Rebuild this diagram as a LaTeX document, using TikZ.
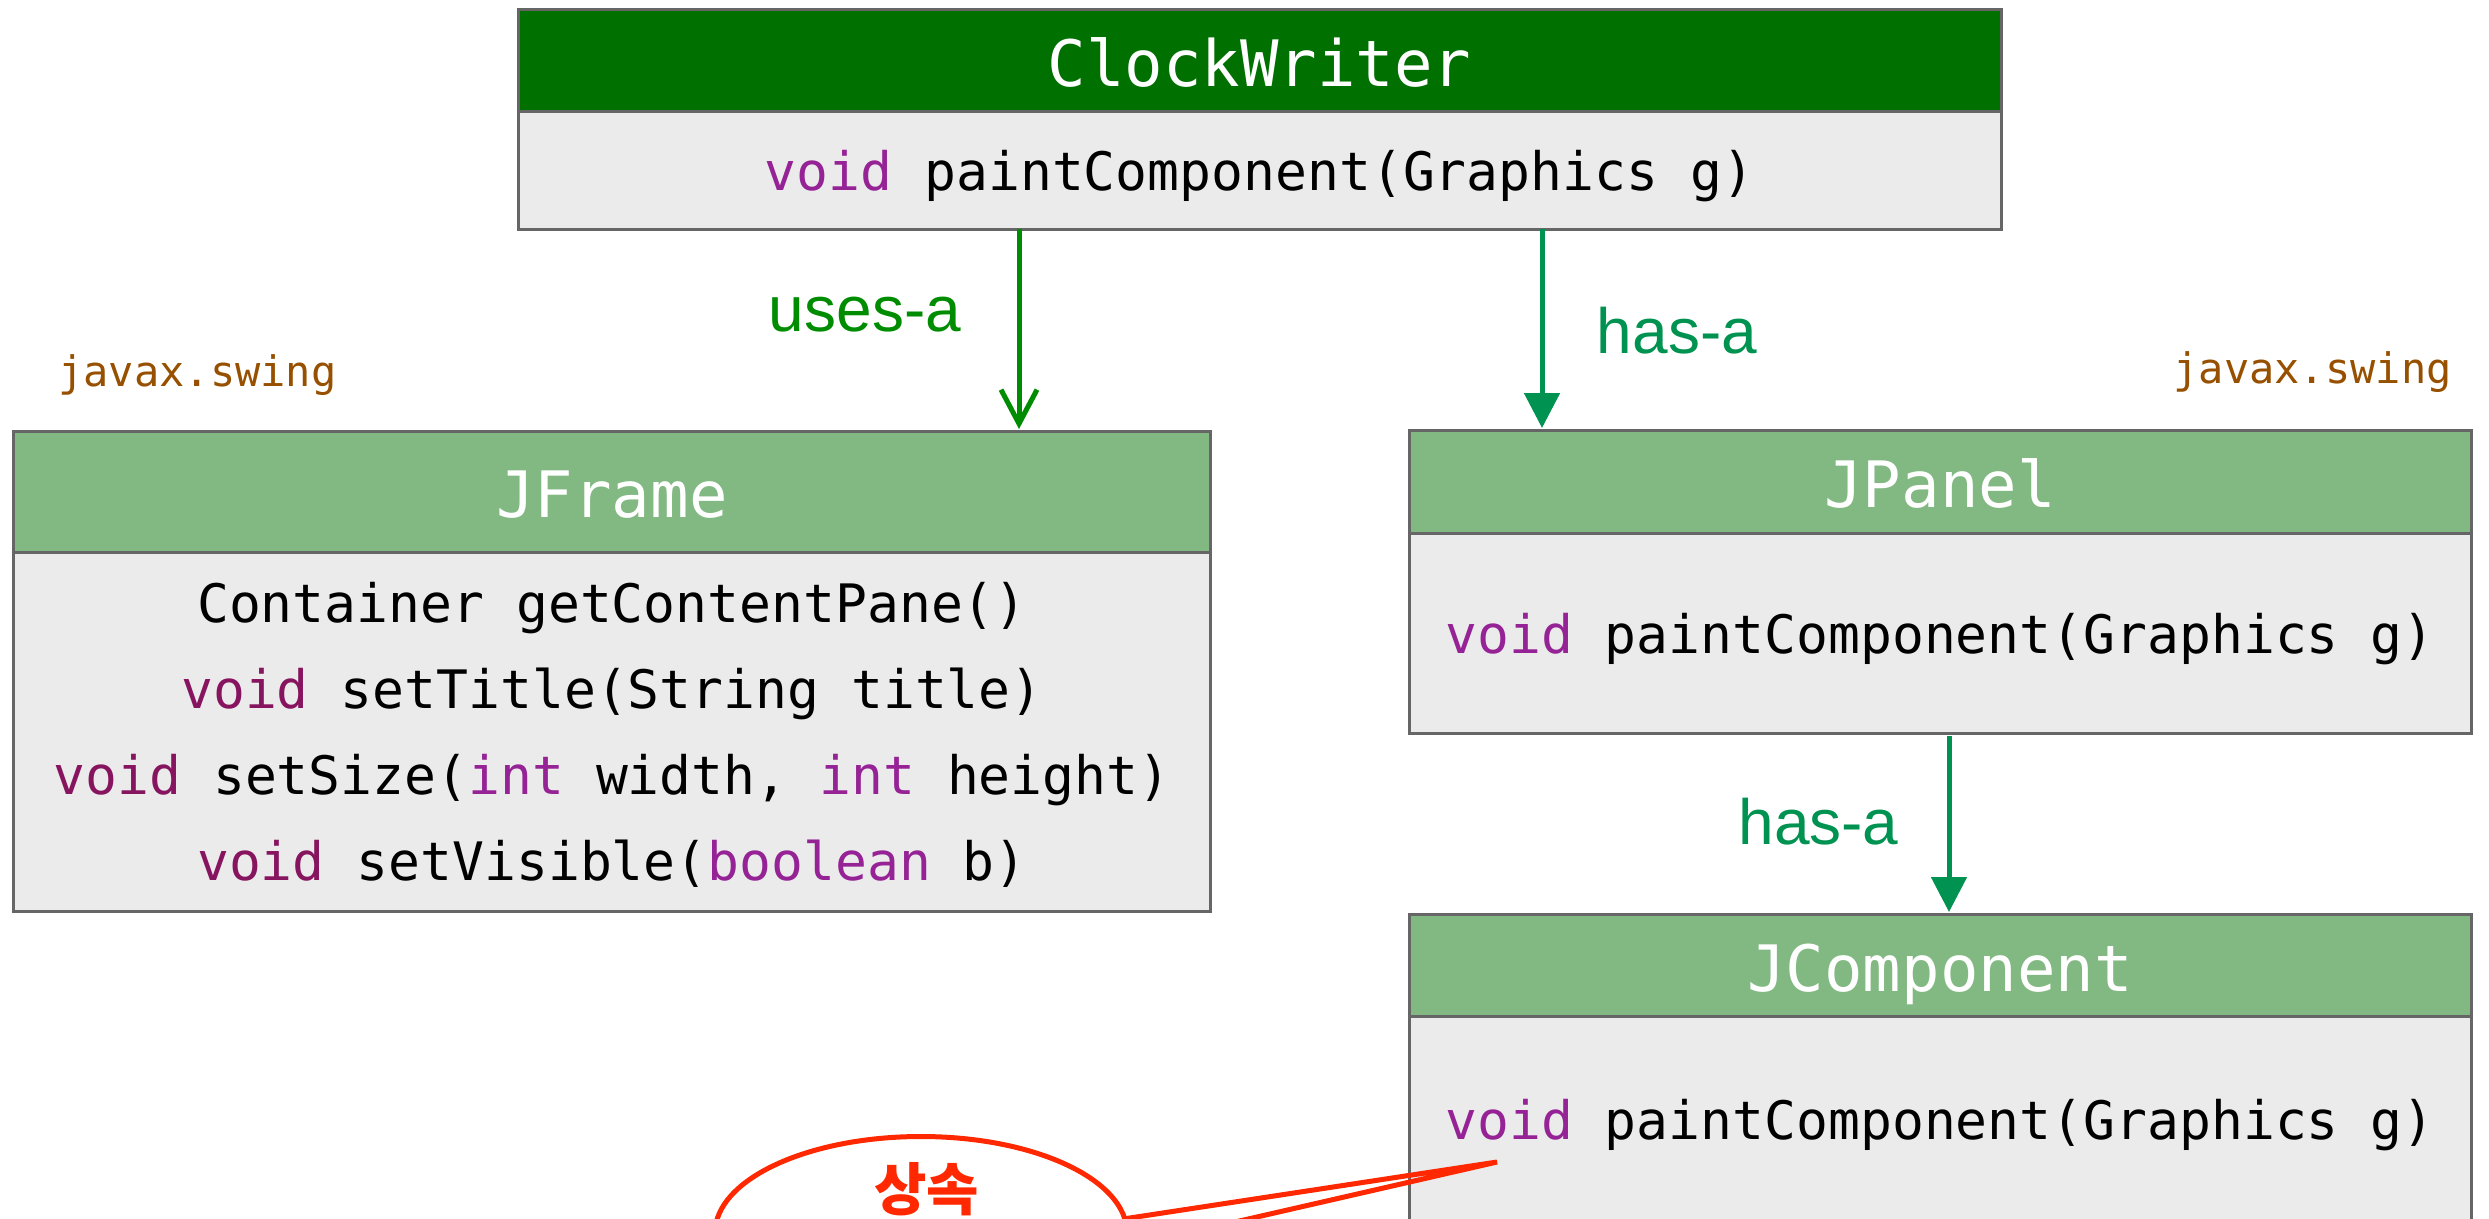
\documentclass[tikz,border=0pt]{standalone}
\usepackage{fontspec}
\setmainfont{Liberation Sans}
\setsansfont{Liberation Sans}
\setmonofont{DejaVu Sans Mono}
\newfontfamily\hangul{Noto Sans CJK KR}
\usepackage{tikz}
\usetikzlibrary{shapes.geometric, arrows.meta, positioning}

\definecolor{headdark}{RGB}{0,112,0}
\definecolor{headlight}{RGB}{130,184,130}
\definecolor{bodygray}{RGB}{235,235,235}
\definecolor{edgegray}{RGB}{102,102,102}
\definecolor{kwpurple}{RGB}{150,35,150}
\definecolor{kwmaroon}{RGB}{135,20,95}
\definecolor{usesgreen}{RGB}{0,140,0}
\definecolor{hasgreen}{RGB}{0,146,80}
\definecolor{pkgbrown}{RGB}{150,80,0}
\definecolor{calloutred}{RGB}{255,40,0}

\newcommand{\titlefont}{\ttfamily\fontsize{64}{70}\selectfont}
\newcommand{\codefont}{\ttfamily\fontsize{53}{86}\selectfont}
\newcommand{\pkgfont}{\ttfamily\fontsize{42}{50}\selectfont}
\newcommand{\relfont}{\sffamily\fontsize{64}{70}\selectfont}
\newcommand{\kwp}[1]{\textcolor{kwpurple}{#1}}
\newcommand{\kwm}[1]{\textcolor{kwmaroon}{#1}}

\tikzstyle{head} = [rectangle, text centered, draw=edgegray, line width=3pt, fill=headlight, text=white, font=\titlefont, text height=52pt, text depth=0pt, inner sep=0pt, outer sep=0pt]
\tikzstyle{members} = [rectangle, align=center, draw=edgegray, line width=3pt, fill=bodygray, font=\codefont, text depth=0pt, inner sep=0pt, outer sep=0pt]
\tikzstyle{method} = [members, text height=40pt]
\tikzstyle{pkg} = [font=\pkgfont, text=pkgbrown, inner sep=0pt]
\tikzstyle{rel} = [font=\relfont, inner sep=0pt]
\tikzstyle{usesarrow} = [line width=5pt, draw=usesgreen, shorten >=2pt, -{Straight Barb[length=34pt, width=36pt]}]
\tikzstyle{hasarrow} = [line width=5pt, draw=hasgreen, shorten >=2pt, -{Triangle[length=35pt, width=35pt]}]
\tikzstyle{bubble} = [ellipse, draw=calloutred, line width=5pt, minimum width=412pt, minimum height=193pt, inner sep=0pt, outer sep=0pt]
\tikzstyle{pointer} = [draw=calloutred, line width=5pt, line join=miter]

\begin{document}
\begin{tikzpicture}[x=1pt, y=-1pt]
				\useasboundingbox (0,0) rectangle (2489,1218);
				\clip (0,0) rectangle (2489,1218);
				\node(clock) [head, fill=headdark, minimum width=1483pt, minimum height=102pt] at (1259.5,60) {ClockWriter};
				\node(clockbody) [method, below=0pt of clock, minimum width=1483pt, minimum height=118pt] {\kwp{void} paintComponent(Graphics g)};
				%----------------------------------------------------%
				\node(frame) [head, below=202pt of clockbody, xshift=-647.5pt, minimum width=1197pt, minimum height=121pt] {JFrame};
				\node(framebody) [members, below=0pt of frame, minimum width=1197pt, minimum height=359pt] {Container getContentPane()\\\kwm{void} setTitle(String title)\\\kwm{void} setSize(\kwp{int} width, \kwp{int} height)\\\kwm{void} setVisible(\kwp{boolean} b)};
				\node(pkgleft) [pkg] at (197.5,375) {javax.swing};
				
				\coordinate (usesfrom) at ([xshift=-240.5pt]clockbody.south);
				\draw[usesarrow] (usesfrom) -- (usesfrom |- frame.north);
				\node(useslabel) [rel, text=usesgreen] at (865,315) {uses-a};
				
				%----------------------------------------------------%
				\node(panel) [head, below=201pt of clockbody, xshift=680.5pt, minimum width=1062pt, minimum height=103pt] {JPanel};
				\node(panelbody) [method, below=0pt of panel, minimum width=1062pt, minimum height=200pt] {\kwp{void} paintComponent(Graphics g)};
				\node(pkgright) [pkg] at (2312.5,372) {javax.swing};
				
				\coordinate (hasfrom) at ([xshift=282.5pt]clockbody.south);
				\draw[hasarrow] (hasfrom) -- (hasfrom |- panel.north);
				\node(haslabel) [rel, text=hasgreen] at (1677,330.5) {has-a};
				
				%----------------------------------------------------%
				\node(comp) [head, below=181pt of panelbody, minimum width=1062pt, minimum height=102pt] {JComponent};
				\node(compbody) [method, below=0pt of comp, minimum width=1062pt, minimum height=206pt] {\kwp{void} paintComponent(Graphics g)};
				
				\coordinate (hasfrom2) at ([xshift=9pt, yshift=-3pt]panelbody.south);
				\draw[hasarrow] (hasfrom2) -- (hasfrom2 |- comp.north);
				\node(haslabel2) [rel, text=hasgreen] at (1818.5,822) {has-a};
				
				%----------------------------------------------------%
				\node(inherit) [bubble] at (921,1233) {};
				\coordinate (tip) at (1497,1162);
				\draw[pointer] (inherit.4.2) -- (tip) -- (inherit.-4.2);
				\node(inherittext) [font=\hangul\bfseries\fontsize{57}{60}\selectfont, text=calloutred, anchor=base, inner sep=0pt] at (926.5,1210) {상속};
			\end{tikzpicture}
\end{document}
